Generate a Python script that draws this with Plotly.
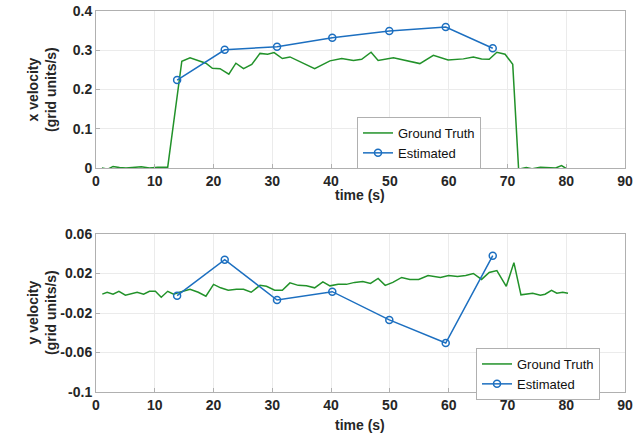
import plotly.graph_objects as go

# ---- data ----
gt_x_time = [1.0, 2.0, 2.9, 4.0, 5.1, 6.2, 7.7, 9.1, 10.5, 12.2, 14.6, 16.0, 17.3, 18.7, 19.8,
             21.1, 22.6, 23.8, 25.1, 26.5, 27.9, 29.2, 30.3, 31.7, 33.0, 35.3, 37.2, 39.8,
             41.8, 43.8, 45.2, 46.8, 48.0, 50.6, 52.9, 55.1, 57.4, 58.5, 59.9, 62.5, 64.2,
             65.6, 66.9, 68.2, 69.6, 70.9, 71.9, 73.2, 74.2, 75.6, 77.0, 78.2, 79.2, 80.1]
gt_x_vel = [0.0, -0.003, 0.004, 0.001, 0.0, 0.002, 0.003, 0.0, 0.002, 0.002, 0.272, 0.281,
            0.274, 0.267, 0.254, 0.253, 0.239, 0.267, 0.253, 0.264, 0.292, 0.290, 0.294,
            0.279, 0.283, 0.267, 0.253, 0.273, 0.279, 0.274, 0.277, 0.295, 0.274, 0.281,
            0.274, 0.266, 0.287, 0.281, 0.275, 0.278, 0.283, 0.278, 0.277, 0.295, 0.290,
            0.264, -0.003, 0.001, -0.002, 0.002, 0.001, 0.0, 0.006, -0.002]

gt_y_time = [1.07, 1.9, 2.9, 3.9, 5.0, 6.1, 7.0, 8.1, 9.1, 10.1, 11.1, 12.2, 13.2, 14.2, 16.0,
             17.4, 18.7, 20.0, 21.2, 22.5, 23.9, 25.1, 26.4, 27.9, 29.0, 30.4, 31.7, 33.0,
             34.4, 35.8, 37.2, 38.6, 39.8, 41.2, 42.6, 44.0, 45.4, 46.7, 48.0, 49.2, 50.5,
             52.0, 53.4, 54.9, 56.5, 58.6, 60.0, 61.5, 62.9, 64.2, 65.6, 66.9, 68.2, 69.8,
             71.1, 72.3, 73.4, 74.3, 75.6, 76.4, 77.5, 78.4, 79.4, 80.3]
gt_y_vel = [-0.0009, 0.001, -0.001, 0.002, -0.002, 0.0, 0.001, -0.001, 0.002, 0.002, -0.004,
            0.002, -0.001, 0.001, 0.004, 0.001, -0.003, 0.009, 0.0055, 0.003, 0.004, 0.004,
            0.001, 0.008, 0.007, 0.003, 0.003, 0.0105, 0.008, 0.0075, 0.0055, 0.0115, 0.0075,
            0.009, 0.009, 0.011, 0.012, 0.010, 0.015, 0.008, 0.011, 0.016, 0.014, 0.014,
            0.018, 0.016, 0.018, 0.017, 0.018, 0.020, 0.014, 0.021, 0.023, 0.007, 0.031,
            -0.0016, -0.001, 0.0, -0.002, -0.001, 0.003, 0.0, 0.001, 0.0]

est_time = [13.8, 21.9, 30.8, 40.2, 49.9, 59.5, 67.5]
est_x_vel = [0.224, 0.301, 0.309, 0.332, 0.349, 0.359, 0.305]
est_y_vel = [-0.0025, 0.034, -0.0068, 0.0016, -0.027, -0.0504, 0.038]

x_ticks = [0, 10, 20, 30, 40, 50, 60, 70, 80, 90]
top_y_ticks = [0, 0.1, 0.2, 0.3, 0.4]
top_y_text = ["0", "0.1", "0.2", "0.3", "0.4"]
bot_y_ticks = [-0.1, -0.06, -0.02, 0.02, 0.06]
bot_y_text = ["-0.1", "-0.06", "-0.02", "0.02", "0.06"]

GREEN = "#22922a"
BLUE = "#1c6fc0"
FONT = "Liberation Sans, Arial, sans-serif"

fig = go.Figure()
fig.add_trace(go.Scatter(x=gt_x_time, y=gt_x_vel, mode="lines", name="Ground Truth",
                         line=dict(color=GREEN, width=1.5), xaxis="x", yaxis="y", legend="legend"))
fig.add_trace(go.Scatter(x=est_time, y=est_x_vel, mode="lines+markers", name="Estimated",
                         line=dict(color=BLUE, width=1.5),
                         marker=dict(symbol="circle-open", size=7, color=BLUE, line=dict(width=1.5)),
                         xaxis="x", yaxis="y", legend="legend"))
fig.add_trace(go.Scatter(x=gt_y_time, y=gt_y_vel, mode="lines", name="Ground Truth",
                         line=dict(color=GREEN, width=1.5), xaxis="x2", yaxis="y2", legend="legend2"))
fig.add_trace(go.Scatter(x=est_time, y=est_y_vel, mode="lines+markers", name="Estimated",
                         line=dict(color=BLUE, width=1.5),
                         marker=dict(symbol="circle-open", size=7, color=BLUE, line=dict(width=1.5)),
                         xaxis="x2", yaxis="y2", legend="legend2"))

axis_common = dict(showline=True, mirror=True, linecolor="#b0b0b0", linewidth=1,
                   showgrid=True, gridcolor="#ebebeb", gridwidth=1, zeroline=False,
                   ticks="inside", ticklen=4, tickcolor="#b0b0b0", automargin=False,
                   tickfont=dict(family=FONT, size=14, color="#262626", weight="bold"))
title_font = dict(family=FONT, size=14, color="#262626", weight="bold")

L, R, T, B = 96, 15, 11, 46
W, H = 640, 438
PW, PH = W - L - R, H - T - B


def px_x(px):
    return (px - L) / PW


def px_y(py):
    return (H - B - py) / PH


annotations = [
    dict(text="x velocity<br>(grid units/s)", x=px_x(42), y=px_y(90), textangle=-90),
    dict(text="y velocity<br>(grid units/s)", x=px_x(42), y=px_y(313), textangle=-90),
    dict(text="time (s)", x=px_x(360), y=px_y(195)),
    dict(text="time (s)", x=px_x(360), y=px_y(425)),
]
for a in annotations:
    a.update(xref="paper", yref="paper", showarrow=False, xanchor="center", yanchor="middle",
             font=title_font)

fig.update_layout(
    width=W, height=H,
    margin=dict(l=L, r=R, t=T, b=B),
    paper_bgcolor="white", plot_bgcolor="white",
    font=dict(family=FONT, color="#262626"),
    xaxis=dict(domain=[0, 1], range=[0, 90], tickvals=x_ticks, anchor="y", **axis_common),
    yaxis=dict(domain=[px_y(168), 1], range=[0, 0.4], tickvals=top_y_ticks, ticktext=top_y_text,
               anchor="x", **axis_common),
    xaxis2=dict(domain=[0, 1], range=[0, 90], tickvals=x_ticks, anchor="y2", **axis_common),
    yaxis2=dict(domain=[0, px_y(234)], range=[-0.1, 0.06], tickvals=bot_y_ticks, ticktext=bot_y_text,
                anchor="x2", **axis_common),
    annotations=annotations,
    legend=dict(x=px_x(357), y=px_y(117), xanchor="left", yanchor="top",
                bgcolor="white", bordercolor="#b0b0b0", borderwidth=1,
                font=dict(family=FONT, size=13, color="#111111"),
                tracegroupgap=0, itemwidth=30),
    legend2=dict(x=px_x(476), y=px_y(348), xanchor="left", yanchor="top",
                 bgcolor="white", bordercolor="#b0b0b0", borderwidth=1,
                 font=dict(family=FONT, size=13, color="#111111"),
                 tracegroupgap=0, itemwidth=30),
    showlegend=True,
)

fig.write_html("out.html")
